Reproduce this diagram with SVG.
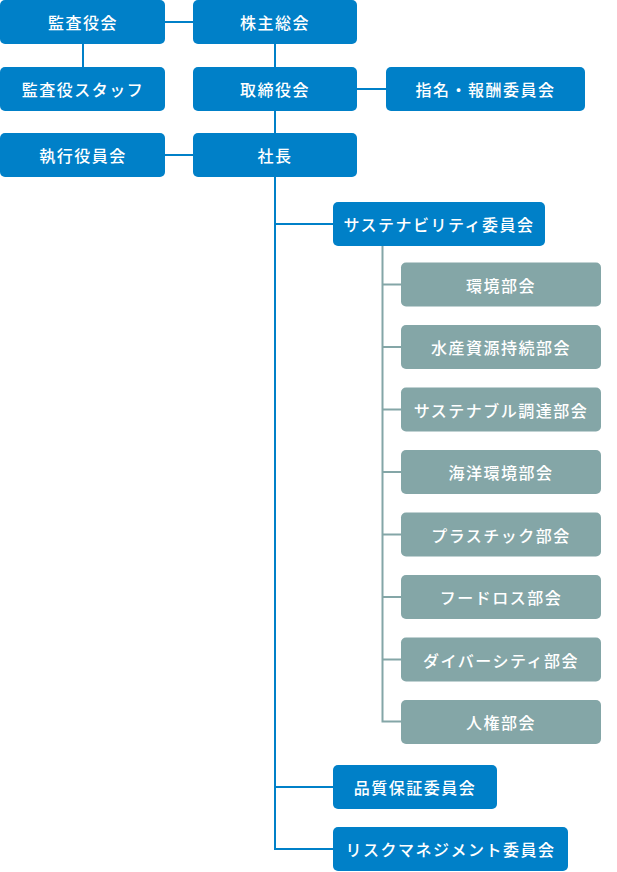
<svg xmlns="http://www.w3.org/2000/svg" width="617" height="872" viewBox="0 0 617 872">
<style>
.b{fill:#0080C8}
.g{fill:#84A6A7}
.t{fill:#fff;font-family:"Noto Sans CJK JP","Noto Sans",sans-serif;font-size:16px;font-weight:500;letter-spacing:1.5px;text-anchor:middle;dominant-baseline:central}
.lb{stroke:#0080C8;stroke-width:2;fill:none}
.lg{stroke:#84A6A7;stroke-width:2;fill:none}
</style>
<rect width="617" height="872" fill="#fff"/>
<g id="connectors">
<path class="lb" d="M165 22H193M83 44V67M275 44V67M357 89H386M275 111V133M165 155H193M275 177V849H333M275 224H333M275 787H333"/>
<path class="lg" d="M382.5 246V721.5H401M382.5 284.5H401M382.5 347H401M382.5 409.5H401M382.5 472H401M382.5 534.5H401M382.5 597H401M382.5 659.5H401"/>
</g>
<g id="n1"><rect class="b" x="0" y="0" width="165" height="44" rx="5"/><text class="t" x="83" y="22">監査役会</text></g>
<g id="n2"><rect class="b" x="193" y="0" width="164" height="44" rx="5"/><text class="t" x="275" y="22">株主総会</text></g>
<g id="n3"><rect class="b" x="0" y="67" width="165" height="44" rx="5"/><text class="t" x="83" y="89">監査役スタッフ</text></g>
<g id="n4"><rect class="b" x="193" y="67" width="164" height="44" rx="5"/><text class="t" x="275" y="89">取締役会</text></g>
<g id="n5"><rect class="b" x="386" y="67" width="199" height="44" rx="5"/><text class="t" x="485.5" y="89">指名・報酬委員会</text></g>
<g id="n6"><rect class="b" x="0" y="133" width="165" height="44" rx="5"/><text class="t" x="83" y="155">執行役員会</text></g>
<g id="n7"><rect class="b" x="193" y="133" width="164" height="44" rx="5"/><text class="t" x="275" y="155">社長</text></g>
<g id="n8"><rect class="b" x="333" y="202" width="212" height="44" rx="5"/><text class="t" x="439" y="224">サステナビリティ委員会</text></g>
<g id="s1"><rect class="g" x="401" y="262.5" width="200" height="44" rx="5"/><text class="t" x="501" y="284.5">環境部会</text></g>
<g id="s2"><rect class="g" x="401" y="325" width="200" height="44" rx="5"/><text class="t" x="501" y="347">水産資源持続部会</text></g>
<g id="s3"><rect class="g" x="401" y="387.5" width="200" height="44" rx="5"/><text class="t" x="501" y="409.5">サステナブル調達部会</text></g>
<g id="s4"><rect class="g" x="401" y="450" width="200" height="44" rx="5"/><text class="t" x="501" y="472">海洋環境部会</text></g>
<g id="s5"><rect class="g" x="401" y="512.5" width="200" height="44" rx="5"/><text class="t" x="501" y="534.5">プラスチック部会</text></g>
<g id="s6"><rect class="g" x="401" y="575" width="200" height="44" rx="5"/><text class="t" x="501" y="597">フードロス部会</text></g>
<g id="s7"><rect class="g" x="401" y="637.5" width="200" height="44" rx="5"/><text class="t" x="501" y="659.5">ダイバーシティ部会</text></g>
<g id="s8"><rect class="g" x="401" y="700" width="200" height="44" rx="5"/><text class="t" x="501" y="722">人権部会</text></g>
<g id="n9"><rect class="b" x="333" y="765" width="164" height="44" rx="5"/><text class="t" x="415" y="787">品質保証委員会</text></g>
<g id="n10"><rect class="b" x="333" y="827" width="235" height="44" rx="5"/><text class="t" x="450.5" y="849">リスクマネジメント委員会</text></g>
</svg>
